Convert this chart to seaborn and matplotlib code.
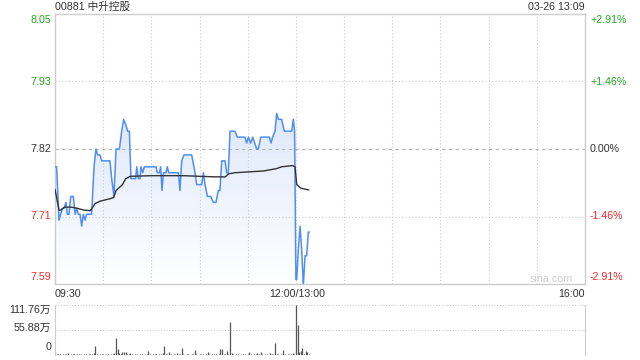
import numpy as np
import pandas as pd
import matplotlib
matplotlib.use("Agg")
import matplotlib.pyplot as plt
from matplotlib.colors import LinearSegmentedColormap
import seaborn as sns

# ---------------- data ----------------
title_text = "00881 中升控股"
time_text = "03-26 13:09"
prev_close = 7.82
pct_limit = 0.0291
pct_mid = 0.0146

left_ticks = ["8.05", "7.93", "7.82", "7.71", "7.59"]
right_ticks = ["+2.91%", "+1.46%", "0.00%", "-1.46%", "-2.91%"]
x_ticks = ["09:30", "12:00/13:00", "16:00"]
vol_ticks = ["111.76万", "55.88万", "0"]
vol_max = 111.76

# price (trading minutes since 09:30, 12:00 and 13:00 both at 150)
price_min = [0, 1.0, 2.5, 3.5, 4.6, 5.6, 6.8, 7.7, 8.7, 9.8, 11.4, 12.5, 13.5, 14.5,
             15.6, 16.6, 17.6, 18.7, 19.7, 22.8, 24.3, 25.5, 26.6, 28.0, 29.1, 34.2,
             35.3, 36.7, 38.0, 40.1, 41.5, 42.8, 44.2, 45.2, 46.3, 47.3, 50.2, 50.9,
             51.9, 52.9, 53.5, 54.6, 55.6, 57.1, 62.9, 63.7, 65.0, 65.8, 66.6, 67.5,
             69.1, 69.9, 70.8, 76.8, 77.8, 78.9, 80.3, 85.1, 87.2, 88.2, 91.3, 92.4,
             93.4, 94.9, 96.9, 98.6, 100.2, 101.7, 102.7, 103.8, 105.9, 106.9, 107.9,
             109.0, 112.1, 113.5, 118.3, 119.3, 120.4, 121.8, 123.1, 125.6, 126.6,
             128.1, 133.5, 134.5, 135.5, 137.0, 138.0, 139.1, 141.1, 142.8, 147.4,
             148.4, 149.2, 150.0, 150.5, 151.5, 152.6, 153.6, 154.6, 155.7, 156.7,
             157.7, 158.4]
price_val = [7.79, 7.79, 7.70, 7.71, 7.72, 7.72, 7.73, 7.71, 7.71, 7.74, 7.74, 7.71, 7.72, 7.71,
             7.71, 7.69, 7.71, 7.70, 7.71, 7.71, 7.79, 7.82, 7.81, 7.81, 7.80, 7.80,
             7.77, 7.74, 7.82, 7.82, 7.85, 7.87, 7.86, 7.85, 7.85, 7.77, 7.77, 7.79,
             7.77, 7.77, 7.79, 7.78, 7.79, 7.79, 7.79, 7.78, 7.78, 7.79, 7.75, 7.78,
             7.78, 7.79, 7.78, 7.78, 7.75, 7.80, 7.81, 7.81, 7.78, 7.76, 7.76, 7.78,
             7.76, 7.74, 7.74, 7.73, 7.73, 7.75, 7.75, 7.80, 7.80, 7.78, 7.78,
             7.85, 7.85, 7.84, 7.84, 7.83, 7.84, 7.83, 7.84, 7.82, 7.82,
             7.84, 7.84, 7.83, 7.84, 7.85, 7.88, 7.87, 7.87, 7.85, 7.85,
             7.87, 7.85, 7.60, 7.60, 7.65, 7.69, 7.65, 7.59, 7.64, 7.64,
             7.68, 7.68]

avg_min = [0, 2.5, 3.5, 6, 10, 14, 18, 22, 23.5, 25, 28, 34, 36.5, 38, 40, 42, 44, 47,
           60, 80, 100, 106, 108, 112, 130, 138, 141, 148, 149.5, 150.5, 153, 158]
avg_val = [7.752, 7.717, 7.717, 7.722, 7.722, 7.720, 7.717, 7.716, 7.722, 7.728, 7.732,
           7.736, 7.738, 7.750, 7.755, 7.760, 7.770, 7.774, 7.775, 7.775, 7.773, 7.773,
           7.778, 7.780, 7.783, 7.787, 7.790, 7.792, 7.790, 7.760, 7.754, 7.751]

# volume per minute (万)
volume = [6, 2, 3, 2, 1, 3, 2, 2, 4, 1,
          2, 3, 2, 1, 3, 2, 2, 1, 3, 2,
          1, 2, 3, 2, 4, 21, 2, 1, 3, 2,
          2, 1, 3, 2, 1, 3, 2, 4, 37, 14,
          5, 3, 7, 6, 6, 3, 2, 4, 2, 1,
          3, 2, 1, 2, 3, 1, 2, 3, 8, 2,
          1, 3, 2, 2, 1, 3, 2, 4, 21, 3,
          2, 7, 2, 1, 3, 2, 4, 2, 3, 16,
          2, 1, 3, 2, 1, 2, 3, 12, 2, 1,
          3, 2, 2, 1, 3, 6, 2, 1, 3, 2,
          2, 1, 3, 14, 14, 2, 3, 10, 2, 74,
          4, 2, 1, 3, 2, 1, 2, 3, 2, 1,
          3, 7, 2, 1, 3, 2, 4, 2, 7, 2,
          1, 3, 2, 1, 4, 2, 3, 27, 2, 3,
          1, 2, 12, 3, 1, 2, 3, 2, 4, 3,
          111.76, 67, 7, 10, 15, 3, 10, 6, 2]
vol_min = list(range(len(volume)))

# ---------------- style ----------------
sns.set_style("white")
plt.rcParams["font.family"] = ["Liberation Sans", "Noto Sans CJK SC", "DejaVu Sans"]
FS = 7.7
GREEN = "#22a822"
RED = "#ee2a2a"
DARK = "#333333"
GRID = "#cccccc"
BLUE = "#4f8ef5"

W, H = 640, 360
fig = plt.figure(figsize=(W / 100, H / 100), dpi=100)
fig.patch.set_facecolor("white")


def px(x, y):
    return x / W, 1 - y / H


ymin = prev_close * (1 - pct_limit)
ymax = prev_close * (1 + pct_limit)

ax = fig.add_axes([55 / W, 1 - 284 / H, 530 / W, 270 / H])
ax.set_xlim(0, 330)
ax.set_ylim(ymin, ymax)
ax.set_xticks([])
ax.set_yticks([])
for s in ax.spines.values():
    s.set_color(GRID)
    s.set_linewidth(1)

# grid
for k in range(1, 11):
    ax.axvline(30 * k, color=GRID, lw=0.8, ls=(0, (1, 2)), zorder=1.5)
for lvl in (prev_close * (1 + pct_mid), prev_close * (1 - pct_mid)):
    ax.axhline(lvl, color=GRID, lw=0.8, ls=(0, (1, 2)), zorder=1.5)
ax.axhline(prev_close, color="#b0b0b0", lw=0.8, ls=(0, (3, 3)), zorder=1.5)

# gradient fill under price
df_p = pd.DataFrame({"m": price_min, "p": price_val})
poly = ax.fill_between(df_p["m"], df_p["p"], ymin, color="none", lw=0)
cmap = LinearSegmentedColormap.from_list("g", ["#ffffff", "#dce7fb"])
grad = np.linspace(0, 1, 256).reshape(-1, 1)
im = ax.imshow(grad, cmap=cmap, aspect="auto", origin="lower",
               extent=[0, 160, ymin, 7.90], zorder=1)
im.set_clip_path(poly.get_paths()[0], transform=ax.transData)
ax.set_xlim(0, 330)
ax.set_ylim(ymin, ymax)

sns.lineplot(data=df_p, x="m", y="p", ax=ax, color=BLUE, lw=1.1,
             estimator=None, sort=False, zorder=3)
df_a = pd.DataFrame({"m": avg_min, "a": avg_val})
sns.lineplot(data=df_a, x="m", y="a", ax=ax, color=DARK, lw=1.0,
             estimator=None, sort=False, zorder=3)
ax.set_xlabel("")
ax.set_ylabel("")

# left / right labels
left_y = [20, 82, 149, 216, 277]
colors = [GREEN, GREEN, DARK, RED, RED]
for lab, y, c in zip(left_ticks, left_y, colors):
    fig.text(*px(51, y), lab, ha="right", va="center", fontsize=FS, color=c)
for lab, y, c in zip(right_ticks, left_y, colors):
    fig.text(*px(590, y), lab, ha="left", va="center", fontsize=FS, color=c)

# titles
fig.text(*px(55, 7), title_text, ha="left", va="center", fontsize=FS, color=DARK)
fig.text(*px(585, 7), time_text, ha="right", va="center", fontsize=FS, color=DARK)
fig.text(*px(573, 279), "sina.com", ha="right", va="center", fontsize=FS, color="#cfcfcf")

# x labels
fig.text(*px(55, 294), x_ticks[0], ha="left", va="center", fontsize=FS, color=DARK)
fig.text(*px(297, 294), x_ticks[1], ha="center", va="center", fontsize=FS, color=DARK)
fig.text(*px(585, 294), x_ticks[2], ha="right", va="center", fontsize=FS, color=DARK)

# volume axes
vax = fig.add_axes([55 / W, 1 - 355 / H, 530 / W, 50 / H])
vax.set_xlim(0, 330)
vax.set_ylim(0, vol_max)
vax.set_xticks([])
vax.set_yticks([])
vax.spines["left"].set_color(GRID)
vax.spines["right"].set_color(GRID)
vax.spines["top"].set_visible(False)
vax.spines["bottom"].set_visible(False)
vax.axhline(vol_max, color=GRID, lw=0.8, ls=(0, (1, 1.5)), clip_on=False)
vax.axhline(vol_max / 2, color=GRID, lw=0.8, ls=(0, (1, 1.5)))
vax.vlines(vol_min, 0, volume, color="#555555", lw=0.9)

for lab, y in zip(vol_ticks, [310, 328, 347]):
    fig.text(*px(51, y), lab, ha="right", va="center", fontsize=FS, color=DARK)

fig.savefig("out.png", dpi=100, facecolor="white")
